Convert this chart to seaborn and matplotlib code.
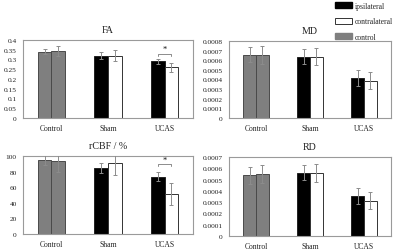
import numpy as np
import pandas as pd
import matplotlib
matplotlib.use("Agg")
import matplotlib.pyplot as plt
from matplotlib.patches import Patch
import seaborn as sns

# ---- data ----
groups = ["Control", "Sham", "UCAS"]
sides = ["ipsilateral", "contralateral"]

fa_ipsi = [0.341, 0.320, 0.290]
fa_contra = [0.344, 0.320, 0.259]
fa_ipsi_err = [0.015, 0.016, 0.014]
fa_contra_err = [0.025, 0.029, 0.025]

md_ipsi = [0.000658, 0.000637, 0.000419]
md_contra = [0.000658, 0.000637, 0.000388]
md_ipsi_err = [0.000081, 0.000080, 0.000083]
md_contra_err = [0.000092, 0.000090, 0.000088]

cbf_ipsi = [95.5, 84.7, 73.6]
cbf_contra = [94.0, 90.6, 51.0]
cbf_ipsi_err = [7.0, 6.0, 6.0]
cbf_contra_err = [14.5, 14.5, 14.0]

rd_ipsi = [0.000538, 0.000561, 0.000351]
rd_contra = [0.000549, 0.000558, 0.000313]
rd_ipsi_err = [0.000074, 0.000068, 0.000070]
rd_contra_err = [0.000083, 0.000083, 0.000077]

titles = ["FA", "MD", "rCBF / %", "RD"]
fa_ticks = [0, 0.05, 0.1, 0.15, 0.2, 0.25, 0.3, 0.35, 0.4]
md_ticks = [0, 0.0001, 0.0002, 0.0003, 0.0004, 0.0005, 0.0006, 0.0007, 0.0008]
cbf_ticks = [0, 20, 40, 60, 80, 100]
rd_ticks = [0, 0.0001, 0.0002, 0.0003, 0.0004, 0.0005, 0.0006, 0.0007]

# significance (UCAS ipsi vs contra): bracket level, star
fa_sig = [0.330, "*"]
cbf_sig = [89.7, "*"]

legend_labels = ["ipsilateral", "contralateral", "control"]

# ---- style ----
sns.set_style("white")
plt.rcParams["font.family"] = ["Liberation Serif", "DejaVu Serif"]
plt.rcParams["axes.unicode_minus"] = False

BLACK = "#000000"
WHITE = "#ffffff"
GREY = "#7f7f7f"
EDGE = "#222222"
ERR = "#8c8c8c"
FRAME = "#9a9a9a"

fig = plt.figure(figsize=(4.0, 2.53), dpi=100)

positions = [
    [23 / 400, 1 - 119 / 253, 170 / 400, 78 / 253],
    [229 / 400, 1 - 119 / 253, 162 / 400, 77 / 253],
    [23 / 400, 1 - 235 / 253, 170 / 400, 78 / 253],
    [229 / 400, 1 - 237 / 253, 162 / 400, 79 / 253],
]

panels = [
    (fa_ipsi, fa_contra, fa_ipsi_err, fa_contra_err, fa_ticks, fa_sig),
    (md_ipsi, md_contra, md_ipsi_err, md_contra_err, md_ticks, None),
    (cbf_ipsi, cbf_contra, cbf_ipsi_err, cbf_contra_err, cbf_ticks, cbf_sig),
    (rd_ipsi, rd_contra, rd_ipsi_err, rd_contra_err, rd_ticks, None),
]

for pos, title, (vi, vc, ei, ec, ticks, sig) in zip(positions, titles, panels):
    ax = fig.add_axes(pos)
    df = pd.DataFrame({
        "group": groups * 2,
        "side": [sides[0]] * 3 + [sides[1]] * 3,
        "value": list(vi) + list(vc),
        "err": list(ei) + list(ec),
    })
    sns.barplot(data=df, x="group", y="value", hue="side", order=groups,
                hue_order=sides, palette=[BLACK, WHITE], width=0.48,
                errorbar=None, legend=False, ax=ax,
                edgecolor=EDGE, linewidth=0.7)
    bars = [p for p in ax.patches]
    centers = []
    tops = []
    for k, p in enumerate(bars):
        side_i = k // 3
        grp_i = k % 3
        if grp_i == 0:
            p.set_facecolor(GREY)
            p.set_edgecolor("#4a4a4a")
        elif side_i == 1:
            p.set_edgecolor("#333333")
        cx = p.get_x() + p.get_width() / 2
        centers.append(cx)
        tops.append(p.get_height())
    errs = list(ei) + list(ec)
    ax.errorbar(centers, tops, yerr=errs, fmt="none", ecolor=ERR,
                elinewidth=0.7, capsize=1.6, capthick=0.7, zorder=5)

    ax.set_xlim(-0.5, 2.5)
    ax.set_ylim(ticks[0], ticks[-1])
    ax.set_yticks(ticks)
    ax.set_yticklabels([f"{t:g}" for t in ticks])
    ax.set_xlabel("")
    ax.set_ylabel("")
    ax.tick_params(axis="y", length=0, labelsize=5.3, pad=4.5, colors="#222222")
    ax.tick_params(axis="x", length=0, labelsize=5.5, pad=4, colors="#222222")
    ax.set_title(title, fontsize=7.2, pad=6, color="#222222")
    for s in ax.spines.values():
        s.set_visible(True)
        s.set_color(FRAME)
        s.set_linewidth(0.8)

    if sig is not None:
        level, star = sig
        x1 = centers[2]
        x2 = centers[5]
        span = ticks[-1] - ticks[0]
        drop = span * 0.03
        ax.plot([x1, x1, x2, x2], [level - drop, level, level, level - drop],
                color=ERR, lw=0.7, clip_on=False, zorder=6)
        ax.text((x1 + x2) / 2, level + span * 0.005, star, ha="center",
                va="bottom", fontsize=6, color="#111111")

handles = [
    Patch(facecolor=BLACK, edgecolor=BLACK),
    Patch(facecolor=WHITE, edgecolor="#333333", linewidth=0.7),
    Patch(facecolor=GREY, edgecolor=GREY),
]
fig.legend(handles, legend_labels, loc="upper left",
           bbox_to_anchor=(333 / 400, 1 - 1.5 / 253), frameon=False,
           fontsize=5.5, handlelength=2.3, handleheight=0.8,
           labelspacing=0.95, handletextpad=0.4, borderpad=0.2,
           borderaxespad=0)

fig.savefig("out.png", dpi=100)
